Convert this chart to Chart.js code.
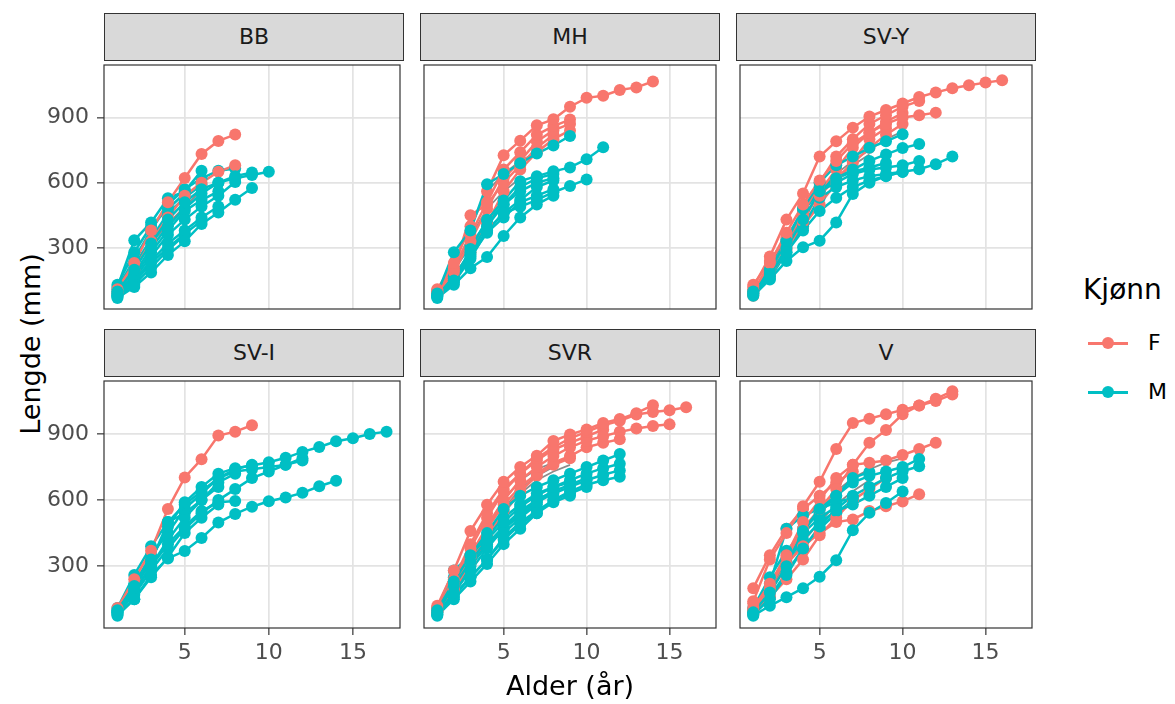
<!DOCTYPE html>
<html>
<head>
<meta charset="utf-8">
<script src="https://cdn.jsdelivr.net/npm/chart.js@4.4.1/dist/chart.umd.min.js"></script>
<style>
  body { margin: 0; background: #fff; font-family: 'DejaVu Sans', sans-serif; }
  #wrap { position: relative; width: 1175px; height: 704px; overflow: hidden; }
  .strip { position: absolute; box-sizing: border-box; border: 1px solid #333; background: #d9d9d9;
           color: #1a1a1a; font-size: 22px; text-align: center; line-height: 46px; }
  canvas { position: absolute; }
  .txt { position: absolute; white-space: nowrap; }
</style>
</head>
<body>
<div id="wrap">
  <div class="txt" id="ytitle" style="left:-119px;top:329px;width:300px;height:30px;line-height:30px;font-size:27px;text-align:center;transform:rotate(-90deg);">Lengde (mm)</div>
  <div class="txt" style="left:1083px;top:276px;font-size:28px;line-height:28px;">Kjønn</div>
  <div style="position:absolute;left:1088px;top:342px;width:40px;height:2.5px;background:#F8766D;"></div>
  <div style="position:absolute;left:1102px;top:337px;width:12px;height:12px;border-radius:50%;background:#F8766D;"></div>
  <div class="txt" style="left:1148px;top:332px;font-size:22px;line-height:22px;">F</div>
  <div style="position:absolute;left:1088px;top:391px;width:40px;height:2.5px;background:#00BFC4;"></div>
  <div style="position:absolute;left:1102px;top:386px;width:12px;height:12px;border-radius:50%;background:#00BFC4;"></div>
  <div class="txt" style="left:1148px;top:381px;font-size:22px;line-height:22px;">M</div>
</div>
<script>
// lengths (mm) per fish, first value = age 1
const bbF = [
  [110, 230, 380, 510, 621, 732, 792, 821],
  [95, 200, 330, 440, 540, 600, 650, 680]
];
const bbM = [
  [100, 200, 320, 430, 510, 570, 600, 620, 635, 650],
  [90, 180, 300, 400, 480, 550, 600, 630, 647],
  [70, 120, 187, 267, 330, 410, 463, 521, 575],
  [120, 335, 417, 528, 560, 655],
  [110, 250, 380, 500, 570, 620, 655, 665],
  [80, 160, 260, 360, 430, 490, 540, 603],
  [85, 150, 240, 320, 380, 440, 490],
  [100, 220, 340, 460, 530, 590],
  [75, 140, 230, 300, 365, 425],
  [130, 280, 400, 480, 550],
  [90, 170, 280, 380, 470, 520, 560],
  [80, 130, 210, 290, 360]
];
const bbNA = [
  [130, 230, 320, 410, 490, 566]
];

const mhF = [
  [110, 230, 400, 560, 726, 793, 864, 891, 949, 990, 1000, 1026, 1038, 1065],
  [100, 210, 360, 510, 660, 740, 820, 860, 890],
  [95, 190, 330, 480, 620, 700, 790, 840, 870],
  [105, 200, 450, 500, 600, 680, 760, 820],
  [90, 170, 280, 410, 560, 660, 740, 800, 840]
];
const mhM = [
  [90, 280, 380, 593, 640, 689, 734, 771, 815],
  [80, 150, 295, 429, 518, 607, 630, 652, 670, 708, 763],
  [75, 140, 250, 380, 460, 489, 521, 556, 585, 615],
  [85, 170, 280, 400, 500, 560, 600, 620],
  [80, 160, 270, 380, 460, 520, 580, 610],
  [70, 130, 206, 258, 355, 440, 500, 540],
  [90, 200, 310, 420, 500, 580, 620, 640],
  [80, 150, 260, 370, 440, 510, 540, 570]
];
const mhNA = [
  [100, 230, 400, 560, 640, 700, 740],
  [90, 200, 350, 480, 560, 620]
];

const svyF = [
  [120, 260, 430, 550, 720, 790, 853, 904, 934, 964, 994, 1015, 1034, 1048, 1060, 1071],
  [100, 230, 370, 500, 610, 700, 780, 830, 870, 900, 910, 922],
  [110, 200, 330, 460, 600, 720, 800, 870, 910, 950, 975],
  [90, 170, 290, 420, 560, 660, 760, 830, 880, 920],
  [130, 240, 350, 450, 540, 620, 690, 760, 820, 870],
  [80, 180, 300, 400, 500, 600, 700, 800, 850]
];
const svyM = [
  [100, 180, 280, 380, 470, 530, 580, 610, 630, 650, 662, 685, 720],
  [90, 170, 300, 430, 560, 620, 660, 700, 730, 759, 778],
  [100, 200, 330, 480, 600, 680, 720, 760, 790, 823],
  [80, 155, 240, 303, 333, 417, 548, 600, 630, 650],
  [90, 190, 330, 470, 560, 600, 640, 660, 670, 680, 700],
  [85, 160, 280, 400, 530, 580, 610, 630, 640, 650],
  [95, 200, 340, 480, 580, 620, 650, 670, 690]
];
const svyNA = [
  [90, 220, 350, 470, 560, 640, 700, 750, 800, 835],
  [85, 200, 320, 440, 540, 620, 680, 730]
];

const sviF = [
  [110, 240, 370, 560, 703, 786, 893, 911, 940]
];
const sviM = [
  [100, 210, 330, 480, 590, 660, 720, 745, 757, 772, 792, 819, 841, 867, 881, 900, 911],
  [80, 150, 260, 335, 369, 428, 498, 537, 570, 595, 612, 633, 663, 688],
  [90, 200, 320, 500, 580, 640, 700, 730, 740, 750, 760, 780],
  [90, 180, 300, 400, 480, 550, 590, 596],
  [100, 220, 350, 450, 560, 630, 700, 740, 760],
  [95, 190, 300, 420, 520, 600, 680, 720],
  [85, 170, 280, 380, 470, 540, 600, 650, 700, 730, 760, 790],
  [110, 260, 390, 500, 540, 600, 660],
  [75, 150, 250, 340, 450, 520, 580]
];
const sviNA = [];

const svrF = [
  [120, 280, 460, 579, 683, 750, 802, 869, 898, 921, 950, 968, 995, 1031],
  [100, 230, 380, 520, 640, 720, 790, 840, 880, 910, 940, 960, 989, 1000, 1008, 1022],
  [90, 200, 350, 480, 600, 690, 750, 800, 840, 870, 890, 910, 925, 937, 944],
  [110, 240, 400, 540, 650, 720, 780, 830, 860, 890, 920],
  [100, 210, 340, 470, 580, 660, 720, 770, 800, 840, 860, 876],
  [95, 190, 320, 440, 550, 640, 710, 760, 790]
];
const svrM = [
  [100, 230, 350, 450, 560, 620, 660, 690, 720, 750, 780, 809],
  [90, 210, 320, 420, 500, 570, 620, 660, 690, 720, 745, 765],
  [80, 180, 280, 380, 470, 530, 590, 630, 660, 690, 715, 735],
  [85, 160, 250, 330, 430, 500, 550, 600, 640, 670, 690, 706],
  [110, 280, 350, 430, 520, 580, 630, 660, 680],
  [75, 150, 230, 310, 400, 470, 540, 600, 630, 660],
  [90, 200, 300, 400, 480, 550, 600, 640],
  [100, 250, 340, 410, 450, 520, 580],
  [80, 170, 250, 330, 420, 490, 540, 590, 620],
  [95, 220, 310, 390, 470, 540, 600, 640, 670, 700]
];
const svrNA = [
  [90, 200, 340, 480, 600, 690, 740, 770, 790],
  [85, 180, 300, 430, 560, 650, 710, 750],
  [80, 170, 290, 420, 540, 630, 690, 730, 760]
];

const vF = [
  [140, 330, 450, 572, 683, 832, 950, 970, 990, 1010, 1030, 1050, 1080],
  [100, 200, 340, 470, 560, 650, 760, 860, 918, 990, 1030, 1060, 1095],
  [110, 220, 350, 500, 600, 700, 760, 770, 780, 805, 832, 861],
  [80, 180, 310, 390, 450, 500, 512, 550, 572, 594, 627],
  [200, 350, 470, 560, 620, 680, 730],
  [130, 160, 240, 330, 440, 520, 600, 650, 700]
];
const vM = [
  [90, 180, 300, 460, 560, 620, 680, 710, 730, 750, 787],
  [80, 150, 260, 380, 480, 560, 620, 660, 700, 731, 754],
  [75, 120, 159, 200, 252, 327, 463, 542, 587, 639],
  [90, 200, 360, 470, 540, 620, 700, 728],
  [100, 220, 470, 530, 560, 590, 610],
  [95, 190, 320, 420, 500, 550, 580, 620, 660, 700],
  [85, 160, 270, 380, 470, 540, 600],
  [110, 250, 370, 450, 520, 570]
];
const vNA = [
  [100, 200, 330, 450, 560, 640, 700, 740, 770, 790],
  [90, 180, 300, 410, 500, 580, 640, 690]
];

const panelNames = ['BB', 'MH', 'SV-Y', 'SV-I', 'SVR', 'V'];
const panelF = [bbF, mhF, svyF, sviF, svrF, vF];
const panelM = [bbM, mhM, svyM, sviM, svrM, vM];
const panelNA = [bbNA, mhNA, svyNA, sviNA, svrNA, vNA];

const yTicks = [150, 300, 450, 600, 750, 900, 1050];
const yLabels = [300, 600, 900];
const xTicks = [2.5, 5, 7.5, 10, 12.5, 15, 17.5];
const xLabels = [5, 10, 15];

const colF = '#F8766D';
const colM = '#00BFC4';
const colNA = '#8c8c8c';
const FONT = 'DejaVu Sans';

const colLeft = [104, 420, 736];
const rowTop = [61, 377];
const rowH = [252, 251];
const plotW = 300;

function toPts(arr) {
  return arr.map((v, i) => ({ x: i + 1, y: v }));
}

const frame = {
  id: 'frame',
  afterDraw(chart) {
    const { ctx, chartArea: a } = chart;
    ctx.save();
    ctx.strokeStyle = '#333333';
    ctx.lineWidth = 1.2;
    ctx.strokeRect(a.left, a.top, a.right - a.left, a.bottom - a.top);
    ctx.restore();
  }
};

function isMajor(list, v) {
  return list.indexOf(v) !== -1;
}

const wrap = document.getElementById('wrap');

panelNames.forEach((name, p) => {
  const c = p % 3, r = Math.floor(p / 3);
  const isLeft = c === 0, isBottom = r === 1;
  const axW = isLeft ? 104 : 2;
  const axH = isBottom ? 76 : 2;

  // strip
  const strip = document.createElement('div');
  strip.className = 'strip';
  strip.style.left = colLeft[c] + 'px';
  strip.style.top = (rowTop[r] - 48) + 'px';
  strip.style.width = plotW + 'px';
  strip.style.height = '48px';
  strip.textContent = name;
  wrap.appendChild(strip);

  const cv = document.createElement('canvas');
  const w = axW + plotW + 2, h = 2 + rowH[r] + axH;
  cv.width = w; cv.height = h;
  cv.style.width = w + 'px'; cv.style.height = h + 'px';
  cv.style.left = (colLeft[c] - axW) + 'px';
  cv.style.top = (rowTop[r] - 2) + 'px';
  wrap.appendChild(cv);

  // interleave fish of both sexes
  const F = panelF[p], M = panelM[p];
  const fish = [];
  const n = Math.max(F.length, M.length);
  for (let i = 0; i < n; i++) {
    if (M[i]) fish.push({ col: colM, vals: M[i] });
    if (F[i]) fish.push({ col: colF, vals: F[i] });
  }

  const datasets = [];
  panelNA[p].forEach(vals => {
    datasets.push({ data: toPts(vals), showLine: true, borderColor: colNA, borderWidth: 1.8,
      pointRadius: 0, order: 2 });
  });
  fish.forEach(f => {
    datasets.push({ data: toPts(f.vals), showLine: true, borderColor: f.col, borderWidth: 2.5,
      pointRadius: 0, order: 1 });
  });
  fish.forEach(f => {
    datasets.push({ data: toPts(f.vals), showLine: false, pointRadius: 6, pointBorderWidth: 0,
      pointBackgroundColor: f.col, backgroundColor: f.col, order: 0 });
  });

  new Chart(cv, {
    type: 'scatter',
    data: { datasets },
    options: {
      responsive: false,
      animation: false,
      devicePixelRatio: 1,
      events: [],
      layout: { padding: { top: 2, right: 2, left: 0, bottom: 0 } },
      plugins: { legend: { display: false }, tooltip: { enabled: false } },
      scales: {
        x: {
          type: 'linear', min: 0.2, max: 17.8,
          afterBuildTicks: s => { s.ticks = xTicks.map(v => ({ value: v })); },
          afterFit: s => { s.height = axH; s.paddingLeft = 0; s.paddingRight = 0; },
          border: { display: false },
          grid: {
            color: ctx => (ctx.tick && isMajor(xLabels, ctx.tick.value)) ? '#e3e3e3' : '#efefef',
            lineWidth: ctx => (ctx.tick && isMajor(xLabels, ctx.tick.value)) ? 1.7 : 1,
            drawTicks: isBottom,
            tickLength: 7,
            tickWidth: 1.2,
            tickColor: ctx => (ctx.tick && isMajor(xLabels, ctx.tick.value)) ? '#333333' : 'rgba(0,0,0,0)'
          },
          ticks: {
            display: isBottom, padding: 5, color: '#4d4d4d', maxRotation: 0, autoSkip: false,
            font: { family: FONT, size: 22 },
            callback: v => isMajor(xLabels, v) ? String(v) : null
          },
          title: {
            display: p === 4, text: 'Alder (år)', color: '#000000',
            font: { family: FONT, size: 27 }, padding: { top: 0, bottom: 0 }
          }
        },
        y: {
          type: 'linear', min: 19, max: 1141,
          afterBuildTicks: s => { s.ticks = yTicks.map(v => ({ value: v })); },
          afterFit: s => { s.width = axW; s.paddingTop = 0; s.paddingBottom = 0; },
          border: { display: false },
          grid: {
            color: ctx => (ctx.tick && isMajor(yLabels, ctx.tick.value)) ? '#e3e3e3' : '#efefef',
            lineWidth: ctx => (ctx.tick && isMajor(yLabels, ctx.tick.value)) ? 1.7 : 1,
            drawTicks: isLeft,
            tickLength: 7,
            tickWidth: 1.2,
            tickColor: ctx => (ctx.tick && isMajor(yLabels, ctx.tick.value)) ? '#333333' : 'rgba(0,0,0,0)'
          },
          ticks: {
            display: isLeft, padding: 8, color: '#4d4d4d',
            font: { family: FONT, size: 22 },
            callback: v => isMajor(yLabels, v) ? String(v) : null
          }
        }
      }
    },
    plugins: [frame]
  });
});
</script>
</body>
</html>
